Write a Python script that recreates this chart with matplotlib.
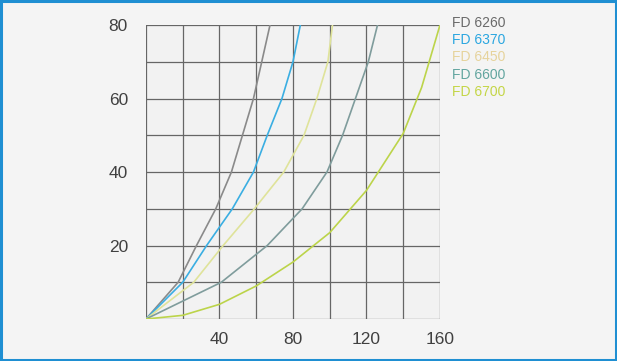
import matplotlib
matplotlib.use("Agg")
import matplotlib.pyplot as plt
from matplotlib.patches import Rectangle

# data (flow vs pressure curves)
y_levels = [0, 10, 20, 30, 40, 50, 60, 70, 80]
fd6260_x = [0, 17.5, 27.5, 38, 46.5, 52.5, 58.5, 63, 67.5]
fd6370_x = [0, 20, 33, 47, 58.5, 66, 74, 80, 84]
fd6450_x = [0, 26, 42, 59, 75, 86, 93, 99, 101.5]
fd6600_x = [0, 41, 66, 85, 98.5, 107, 114, 121, 126]
fd6700_x = [0, 20, 40, 60, 80, 100, 120, 140, 150, 160]
fd6700_y = [0, 1, 4, 9, 15.5, 23.5, 35, 50.5, 63, 80]

names = ['FD 6260', 'FD 6370', 'FD 6450', 'FD 6600', 'FD 6700']
line_colors = ['#8a8a8a', '#3aaee2', '#dfe39a', '#7f9c9c', '#bcd44a']
text_colors = ['#6a6a6a', '#2aa6e0', '#e6d39c', '#62a59f', '#c4d646']

matplotlib.rcParams['font.family'] = 'Liberation Sans'

fig = plt.figure(figsize=(6.17, 3.61), dpi=100)
fig.patch.set_facecolor('#f4f4f4')
fig.add_artist(Rectangle((0.002, 0.003), 0.996, 0.994, transform=fig.transFigure,
                         fill=False, edgecolor='#1f8fd2', linewidth=2.2))

ax = fig.add_axes([0.2366, 0.1163, 0.4765, 0.8144])
ax.set_facecolor('#f2f2f2')

series = [
    (fd6260_x, y_levels),
    (fd6370_x, y_levels),
    (fd6450_x, y_levels),
    (fd6600_x, y_levels),
    (fd6700_x, fd6700_y),
]
for (xs, ys), c in zip(series, line_colors):
    ax.plot(xs, ys, color=c, linewidth=1.2)

ax.set_xlim(0, 160)
ax.set_ylim(0, 80)
ax.set_xticks(range(0, 161, 20))
ax.set_yticks(range(0, 81, 10))
ax.grid(True, color='#666666', linewidth=0.9)
ax.set_axisbelow(True)
for s in ax.spines.values():
    s.set_visible(False)
ax.tick_params(length=0, labelsize=12.5, colors='#404040')
ax.set_xticklabels(['' if v % 40 or v == 0 else str(v) for v in range(0, 161, 20)])
ax.set_yticklabels(['' if v % 20 or v == 0 else str(v) for v in range(0, 81, 10)])
ax.tick_params(axis='y', pad=13)
ax.tick_params(axis='x', pad=9)

for i, (n, c) in enumerate(zip(names, text_colors)):
    fig.text(452 / 617, 1 - (22.7 + i * 17.3) / 361, n, color=c, fontsize=10,
             va='center', ha='left')

plt.savefig('out.png', dpi=100, facecolor=fig.get_facecolor())
